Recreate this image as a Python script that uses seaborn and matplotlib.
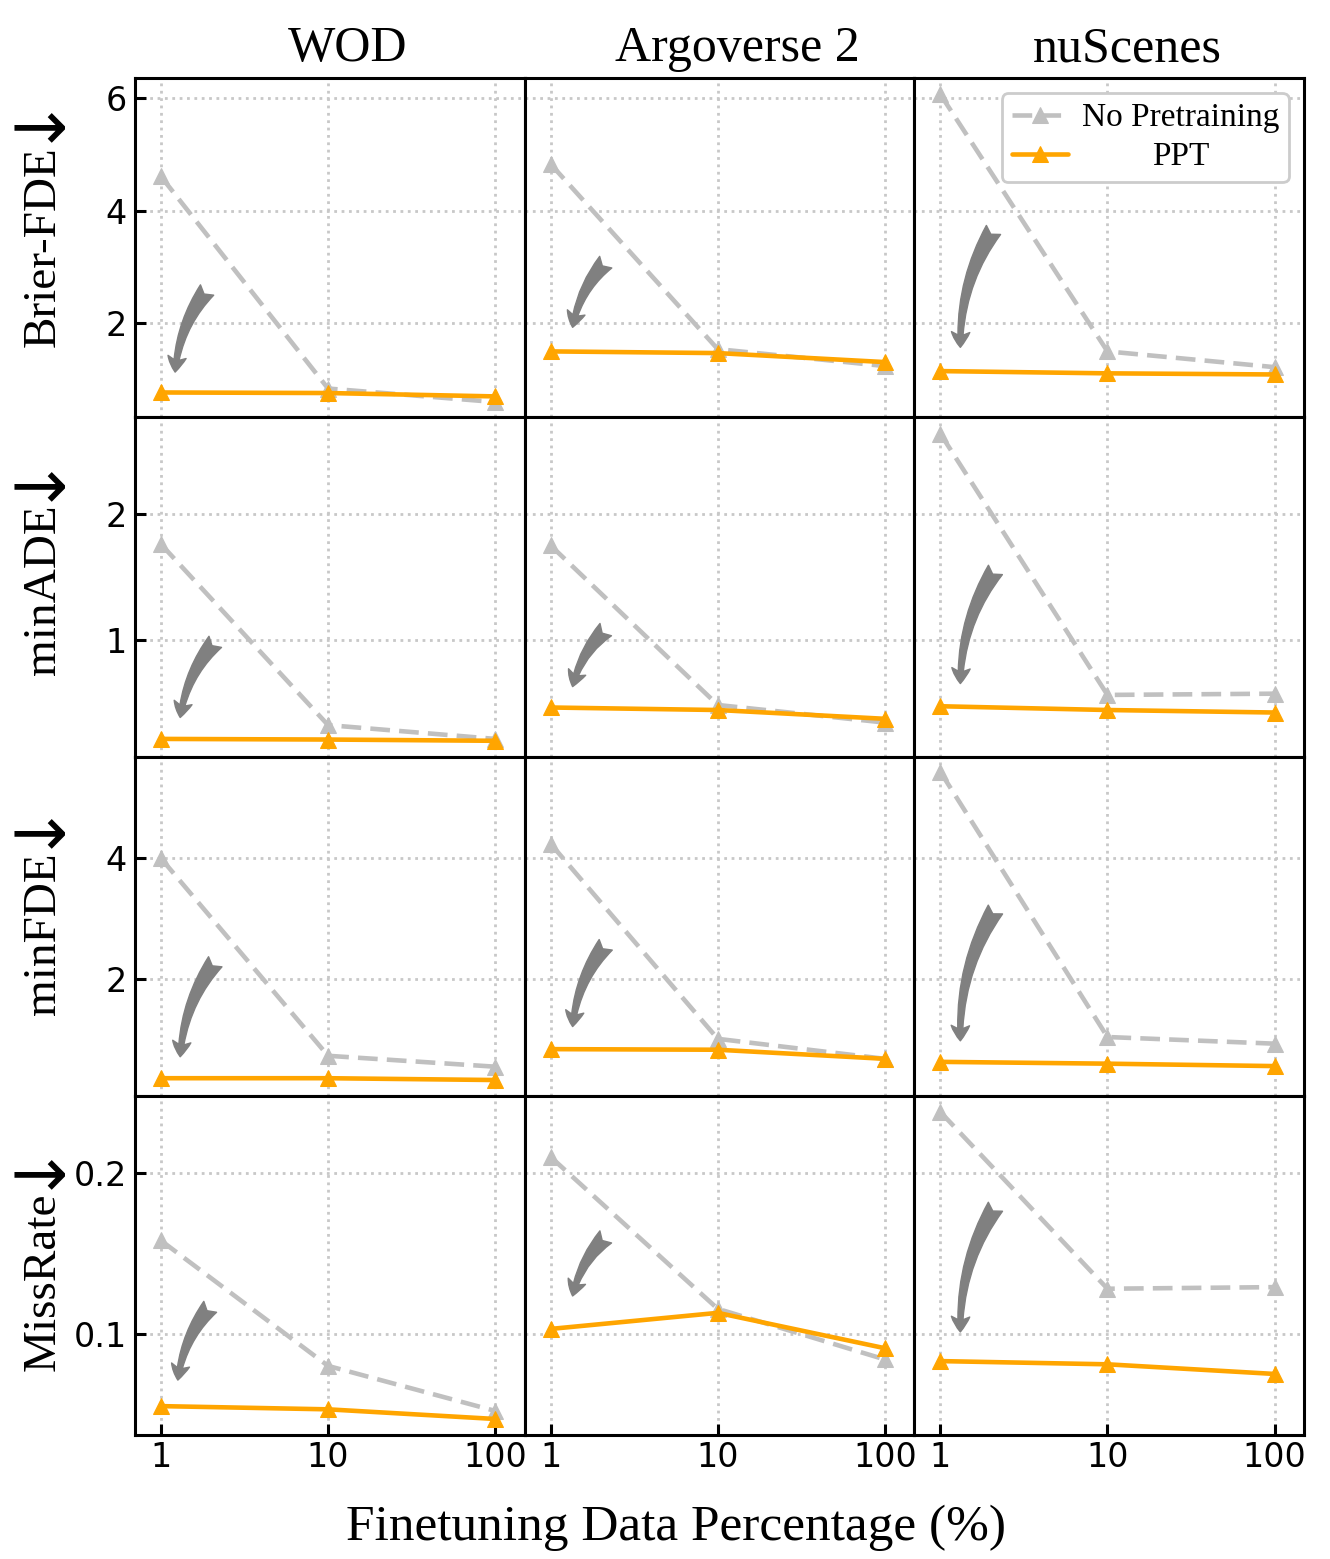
import matplotlib
matplotlib.use("Agg")
import matplotlib.pyplot as plt
from matplotlib.transforms import IdentityTransform
import seaborn as sns
import pandas as pd

# finetuning data percentage
pct = [1, 10, 100]
datasets = ['WOD', 'Argoverse 2', 'nuScenes']
metrics = ['Brier-FDE', 'minADE', 'minFDE', 'MissRate']

# values per dataset (WOD, Argoverse 2, nuScenes), each at 1 / 10 / 100 %
brier_nopre = [[4.61, 0.84, 0.60], [4.83, 1.54, 1.24], [6.07, 1.50, 1.22]]
brier_ppt = [[0.77, 0.76, 0.70], [1.50, 1.47, 1.31], [1.15, 1.11, 1.09]]
ade_nopre = [[1.76, 0.32, 0.21], [1.75, 0.48, 0.34], [2.64, 0.56, 0.57]]
ade_ppt = [[0.21, 0.205, 0.195], [0.46, 0.44, 0.37], [0.47, 0.44, 0.42]]
fde_nopre = [[3.99, 0.73, 0.55], [4.23, 1.01, 0.68], [5.42, 1.04, 0.93]]
fde_ppt = [[0.36, 0.36, 0.33], [0.84, 0.83, 0.68], [0.63, 0.60, 0.56]]
mr_nopre = [[0.158, 0.080, 0.052], [0.210, 0.1155, 0.084], [0.238, 0.128, 0.129]]
mr_ppt = [[0.055, 0.053, 0.047], [0.103, 0.113, 0.091], [0.083, 0.081, 0.075]]

nopre_all = [brier_nopre, ade_nopre, fde_nopre, mr_nopre]
ppt_all = [brier_ppt, ade_ppt, fde_ppt, mr_ppt]

y_limits = [(0.33, 6.36), (0.07, 2.77), (0.07, 5.67), (0.037, 0.248)]
y_ticks = [[2, 4, 6], [1, 2], [2, 4], [0.1, 0.2]]
ylabel_y = [0.503, 0.491, 0.478, 0.451]

# curved "improvement" arrows, (tail, head) in axes fraction
arrows = [
    [((0.185, 0.375), (0.103, 0.133)), ((0.208, 0.457), (0.123, 0.265)), ((0.203, 0.552), (0.118, 0.206))],
    [((0.206, 0.338), (0.116, 0.115)), ((0.208, 0.374), (0.123, 0.206)), ((0.208, 0.550), (0.118, 0.215))],
    [((0.206, 0.395), (0.116, 0.115)), ((0.208, 0.445), (0.123, 0.204)), ((0.208, 0.549), (0.118, 0.162))],
    [((0.193, 0.378), (0.110, 0.162)), ((0.208, 0.584), (0.123, 0.410)), ((0.208, 0.673), (0.118, 0.304))],
]

sns.set_style("ticks")
serif = ['Liberation Serif', 'DejaVu Serif']
plt.rcParams['font.family'] = ['DejaVu Sans']
plt.rcParams['text.color'] = 'black'
plt.rcParams['axes.labelcolor'] = 'black'
plt.rcParams['xtick.color'] = 'black'
plt.rcParams['ytick.color'] = 'black'

gray = '#c0c0c0'
orange = '#ffa500'

fig, axes = plt.subplots(4, 3, figsize=(13.3, 15.59), dpi=100)
fig.subplots_adjust(left=0.1015, right=0.9805, top=0.95, bottom=0.0795,
                    wspace=0, hspace=0)

for i in range(4):
    for j in range(3):
        ax = axes[i, j]
        ax.set_xscale('log')
        df = pd.DataFrame({'pct': pct,
                           'nopre': nopre_all[i][j],
                           'ppt': ppt_all[i][j]})
        sns.lineplot(data=df, x='pct', y='nopre', ax=ax, color=gray,
                     linestyle=(0, (4.3, 2.0)), linewidth=3.3, marker='^',
                     markersize=12, markeredgecolor=gray, label='No Pretraining')
        sns.lineplot(data=df, x='pct', y='ppt', ax=ax, color=orange,
                     linewidth=3.3, marker='^', markersize=12,
                     markeredgecolor=orange, label='PPT')
        if ax.get_legend() is not None:
            ax.get_legend().remove()

        ax.set_xlim(0.7, 150)
        ax.set_ylim(*y_limits[i])
        ax.set_xticks(pct)
        ax.set_xticklabels(['1', '10', '100'])
        ax.xaxis.set_minor_locator(matplotlib.ticker.NullLocator())
        ax.set_yticks(y_ticks[i])
        ax.set_yticklabels([str(v) for v in y_ticks[i]])
        ax.set_xlabel('')
        ax.set_ylabel('')
        ax.grid(True, linestyle=':', color='#c8c8c8', linewidth=2)
        ax.set_axisbelow(True)
        for s in ax.spines.values():
            s.set_visible(True)
            s.set_linewidth(2.2)
            s.set_color('black')
        ax.tick_params(axis='both', direction='in', length=8, width=2.2,
                       labelsize=24, top=False, right=False,
                       color='black', labelcolor='black')
        ax.tick_params(axis='y', pad=6, left=(j == 0), labelleft=(j == 0))
        ax.tick_params(axis='x', pad=4, bottom=(i == 3), labelbottom=(i == 3))

        tail, head = arrows[i][j]
        ax.annotate('', xy=head, xytext=tail, xycoords='axes fraction',
                    textcoords='axes fraction',
                    arrowprops=dict(arrowstyle='fancy,head_length=0.5,head_width=0.6,tail_width=0.55',
                                    connectionstyle='arc3,rad=0.15',
                                    color='gray', mutation_scale=22,
                                    shrinkA=0, shrinkB=0))

        if i == 0:
            ax.set_title(datasets[j], x=0.546, pad=12, fontsize=36,
                         family=serif, color='black')
        if j == 0:
            ax.set_ylabel(metrics[i], fontsize=34, family=serif, color='black')
            ax.yaxis.label.set_va('center')
            ax.yaxis.set_label_coords(-0.234, ylabel_y[i])

fig.text(0.508, 0.012, 'Finetuning Data Percentage (%)', fontsize=37,
         family=serif, ha='center', va='baseline', color='black')

leg_ax = axes[0, 2]
h, l = leg_ax.get_legend_handles_labels()
leg = leg_ax.legend(h, l, loc='upper right', prop={'family': serif, 'size': 24},
                    handlelength=1.7, handletextpad=0.4, labelspacing=0.25,
                    borderpad=0.3, borderaxespad=0.45, framealpha=1,
                    edgecolor='#cccccc', fancybox=True, labelcolor='black')
leg.get_frame().set_linewidth(2)

fig.canvas.draw()
r = fig.canvas.get_renderer()

# center the legend texts within their column
texts = leg.get_texts()
widths = [t.get_window_extent(r).width for t in texts]
wmax = max(widths)
for t, w in zip(texts, widths):
    t.set_ha('center')
    t.set_position(((wmax - w) / 2, 0))

# big "lower is better" arrow at the end of each row label
for i in range(4):
    bb = axes[i, 0].yaxis.label.get_window_extent(r)
    fig.text((bb.x0 + bb.x1) / 2 - 12, bb.y1 + 4, '↓', rotation=90,
             fontsize=50, ha='center', va='bottom', color='black',
             transform=IdentityTransform())

fig.savefig('out.png', dpi=100)
